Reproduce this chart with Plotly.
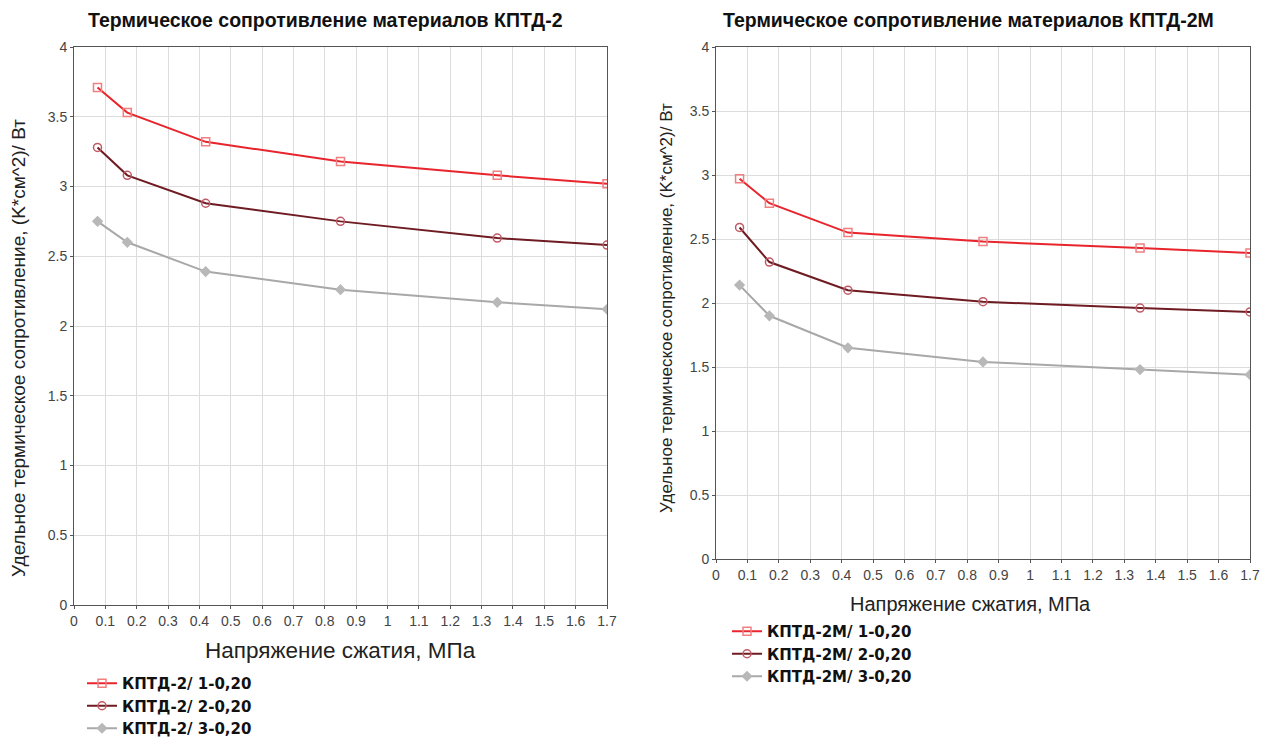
import plotly.graph_objects as go

x_vals = [0.075, 0.17, 0.42, 0.85, 1.35, 1.7]

left_names = ["КПТД-2/ 1-0,20", "КПТД-2/ 2-0,20", "КПТД-2/ 3-0,20"]
left_s1 = [3.71, 3.53, 3.32, 3.18, 3.08, 3.02]
left_s2 = [3.28, 3.08, 2.88, 2.75, 2.63, 2.58]
left_s3 = [2.75, 2.60, 2.39, 2.26, 2.17, 2.12]

right_names = ["КПТД-2М/ 1-0,20", "КПТД-2М/ 2-0,20", "КПТД-2М/ 3-0,20"]
right_s1 = [2.97, 2.78, 2.55, 2.48, 2.43, 2.39]
right_s2 = [2.59, 2.32, 2.10, 2.01, 1.96, 1.93]
right_s3 = [2.14, 1.90, 1.65, 1.54, 1.48, 1.44]

x_ticks = [round(i * 0.1, 1) for i in range(18)]
x_tick_text = ["0", "0.1", "0.2", "0.3", "0.4", "0.5", "0.6", "0.7", "0.8", "0.9",
               "1", "1.1", "1.2", "1.3", "1.4", "1.5", "1.6", "1.7"]
y_ticks = [0, 0.5, 1, 1.5, 2, 2.5, 3, 3.5, 4]
y_tick_text = ["0", "0.5", "1", "1.5", "2", "2.5", "3", "3.5", "4"]

titles = ["Термическое сопротивление материалов КПТД-2",
          "Термическое сопротивление материалов КПТД-2М"]
x_title = "Напряжение сжатия, МПа"
y_title = "Удельное термическое сопротивление, (K*см^2)/ Вт"

colors = ["#e8242c", "#6e1b22", "#a8a8a8"]
marker_colors = ["#f08080", "#c05a66", "#b8b8b8"]
symbols = ["square-open", "circle-open", "diamond"]

FONT = "Liberation Sans, Arial, sans-serif"
LFONT = "DejaVu Sans, Liberation Sans, sans-serif"

fig = go.Figure()

series_sets = [
    (left_names, [left_s1, left_s2, left_s3], "x", "y", "legend"),
    (right_names, [right_s1, right_s2, right_s3], "x2", "y2", "legend2"),
]
for names, data, xa, ya, lg in series_sets:
    for i, (nm, ys) in enumerate(zip(names, data)):
        fig.add_trace(go.Scatter(
            x=x_vals, y=ys, name="<b>" + nm + "</b>", mode="lines+markers",
            xaxis=xa, yaxis=ya, legend=lg,
            line=dict(color=colors[i], width=2),
            marker=dict(symbol=symbols[i], size=8 if i < 2 else 7,
                        color=marker_colors[i],
                        line=dict(color=marker_colors[i], width=1.5)),
        ))

axis_common = dict(
    showline=True, linecolor="#555555", linewidth=1, mirror=True,
    showgrid=True, gridcolor="#dcdcdc", gridwidth=1,
    ticks="outside", ticklen=3, tickcolor="#555555",
    tickfont=dict(family=FONT, size=14, color="#444444"),
    zeroline=False, automargin=False,
)

fig.update_layout(
    width=1277, height=742,
    margin=dict(l=0, r=0, t=0, b=0, autoexpand=False),
    paper_bgcolor="white", plot_bgcolor="white",
    font=dict(family=FONT),
    xaxis=dict(domain=[74/1277, 607/1277], range=[0, 1.7], tickvals=x_ticks,
               ticktext=x_tick_text, anchor="y", **axis_common),
    yaxis=dict(domain=[(742-605)/742, (742-47)/742], range=[0, 4], tickvals=y_ticks,
               ticktext=y_tick_text, anchor="x", **axis_common),
    xaxis2=dict(domain=[716/1277, 1250/1277], range=[0, 1.7], tickvals=x_ticks,
                ticktext=x_tick_text, anchor="y2", **axis_common),
    yaxis2=dict(domain=[(742-559)/742, (742-47)/742], range=[0, 4], tickvals=y_ticks,
                ticktext=y_tick_text, anchor="x2", **axis_common),
    legend=dict(x=82/1277, y=1-667/742, xanchor="left", yanchor="top",
                font=dict(family=LFONT, size=15, color="#111111"),
                tracegroupgap=0, bgcolor="rgba(0,0,0,0)"),
    legend2=dict(x=727/1277, y=1-615/742, xanchor="left", yanchor="top",
                 font=dict(family=LFONT, size=15, color="#111111"),
                 tracegroupgap=0, bgcolor="rgba(0,0,0,0)"),
    showlegend=True,
)

annotations = [
    dict(text="<b>" + titles[0] + "</b>", x=325/1277, y=1-20/742),
    dict(text="<b>" + titles[1] + "</b>", x=968/1277, y=1-20/742),
    dict(text=x_title, x=340/1277, y=1-650/742),
    dict(text=x_title, x=970/1277, y=1-604/742),
    dict(text=y_title, x=19/1277, y=1-348/742, textangle=-90),
    dict(text=y_title, x=666/1277, y=1-308/742, textangle=-90),
]
sizes = [19.5, 19.5, 22.5, 20, 19, 17]
colors_a = ["#111111", "#111111", "#222222", "#222222", "#222222", "#222222"]
for a, s, c in zip(annotations, sizes, colors_a):
    a.update(xref="paper", yref="paper", xanchor="center", yanchor="middle",
             showarrow=False, font=dict(family=FONT, size=s, color=c))
fig.update_layout(annotations=annotations)

fig.write_html("out.html")
